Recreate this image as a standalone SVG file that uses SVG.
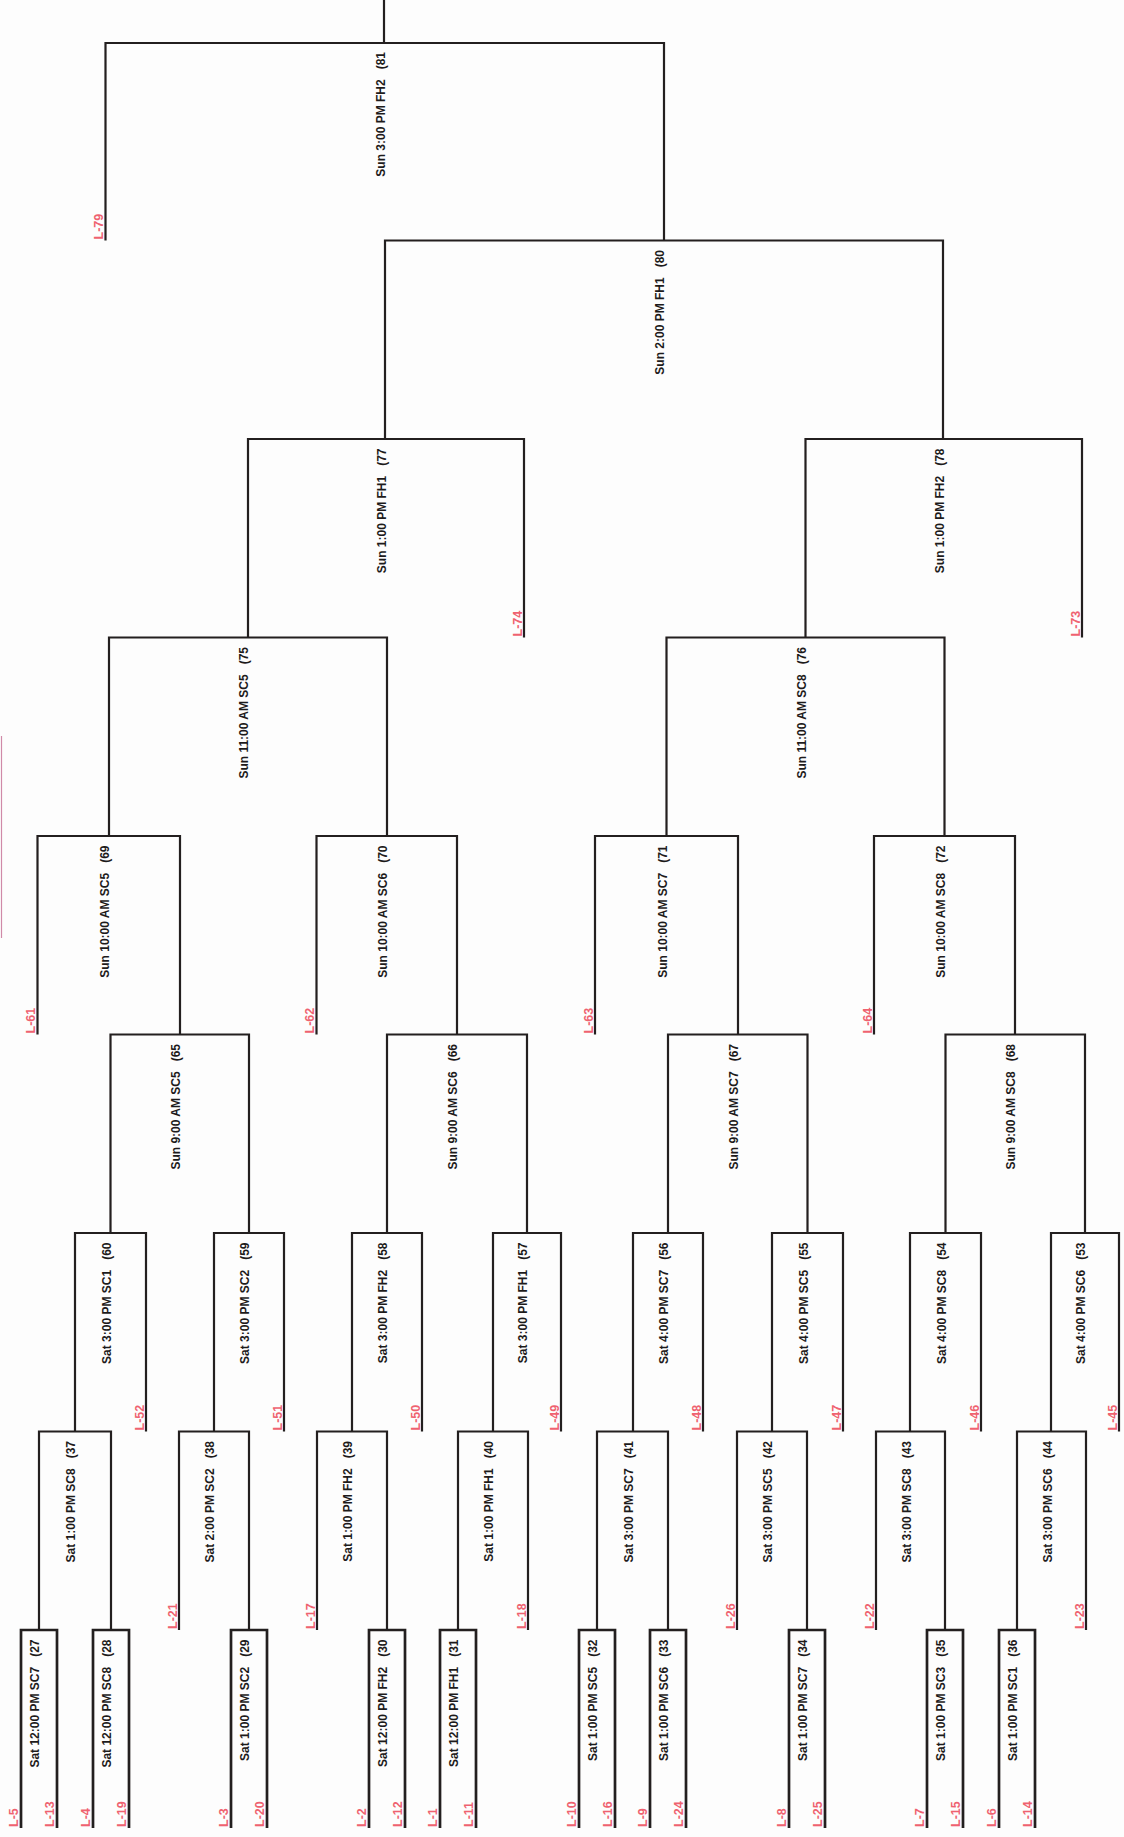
<svg xmlns="http://www.w3.org/2000/svg" width="1124" height="1837" viewBox="0 0 1124 1837" xml:space="preserve">
<style>
.c{fill:none;stroke:#231f1f;stroke-width:2.2;stroke-linejoin:miter}
.c9{stroke-width:2.7}
.m{font-family:"Liberation Sans",Arial,sans-serif;font-size:12px;font-weight:bold;fill:#1d1b1b;text-anchor:end;white-space:pre}
.l{font-family:"Liberation Sans",Arial,sans-serif;font-size:12.5px;font-weight:bold;fill:#ef6270;text-anchor:start}
</style>
<rect width="1124" height="1837" fill="#fdfdfd"/>
<line x1="1.5" y1="736" x2="1.5" y2="938" stroke="#d08aa8" stroke-width="1.2"/>
<g id="connectors">
<path class="c" d="M384,0 V43"/>
<path class="c" d="M105.5,240.5 V43 H664 V240.5"/>
<path class="c" d="M385,439 V240.5 H943 V439"/>
<path class="c" d="M248,637.5 V439 H524 V637.5"/>
<path class="c" d="M805.5,637.5 V439 H1082 V637.5"/>
<path class="c" d="M109,836 V637.5 H387 V836"/>
<path class="c" d="M666.5,836 V637.5 H944.5 V836"/>
<path class="c" d="M37.5,1034.5 V836 H180 V1034.5"/>
<path class="c" d="M316.5,1034.5 V836 H457 V1034.5"/>
<path class="c" d="M595,1034.5 V836 H738 V1034.5"/>
<path class="c" d="M874,1034.5 V836 H1015 V1034.5"/>
<path class="c" d="M110.5,1233 V1034.5 H249 V1233"/>
<path class="c" d="M387,1233 V1034.5 H527 V1233"/>
<path class="c" d="M668,1233 V1034.5 H807.5 V1233"/>
<path class="c" d="M945.5,1233 V1034.5 H1085 V1233"/>
<path class="c" d="M75,1431.5 V1233 H146 V1431.5"/>
<path class="c" d="M214,1431.5 V1233 H284 V1431.5"/>
<path class="c" d="M352,1431.5 V1233 H422 V1431.5"/>
<path class="c" d="M493,1431.5 V1233 H561 V1431.5"/>
<path class="c" d="M633,1431.5 V1233 H703 V1431.5"/>
<path class="c" d="M772,1431.5 V1233 H843 V1431.5"/>
<path class="c" d="M910,1431.5 V1233 H981 V1431.5"/>
<path class="c" d="M1051,1431.5 V1233 H1119 V1431.5"/>
<path class="c" d="M39,1630 V1431.5 H111 V1630"/>
<path class="c" d="M179,1630 V1431.5 H249 V1630"/>
<path class="c" d="M317,1630 V1431.5 H387 V1630"/>
<path class="c" d="M458,1630 V1431.5 H528 V1630"/>
<path class="c" d="M597,1630 V1431.5 H668 V1630"/>
<path class="c" d="M737,1630 V1431.5 H807 V1630"/>
<path class="c" d="M876,1630 V1431.5 H945 V1630"/>
<path class="c" d="M1017,1630 V1431.5 H1086 V1630"/>
<path class="c c9" d="M21,1828 V1630 H57 V1828"/>
<path class="c c9" d="M93,1828 V1630 H129 V1828"/>
<path class="c c9" d="M231,1828 V1630 H267 V1828"/>
<path class="c c9" d="M369,1828 V1630 H405 V1828"/>
<path class="c c9" d="M440,1828 V1630 H476 V1828"/>
<path class="c c9" d="M579,1828 V1630 H615 V1828"/>
<path class="c c9" d="M650,1828 V1630 H686 V1828"/>
<path class="c c9" d="M789,1828 V1630 H825 V1828"/>
<path class="c c9" d="M927,1828 V1630 H963 V1828"/>
<path class="c c9" d="M999,1828 V1630 H1035 V1828"/>
</g>
<g id="m81"><text class="m" x="385" y="52" transform="rotate(-90 385 52)">Sun 3:00 PM FH2 &#160;&#160;(81</text></g>
<g id="m80"><text class="m" x="664" y="250" transform="rotate(-90 664 250)">Sun 2:00 PM FH1 &#160;&#160;(80</text></g>
<g id="m77"><text class="m" x="386" y="448.5" transform="rotate(-90 386 448.5)">Sun 1:00 PM FH1 &#160;&#160;(77</text></g>
<g id="m78"><text class="m" x="943.5" y="448.5" transform="rotate(-90 943.5 448.5)">Sun 1:00 PM FH2 &#160;&#160;(78</text></g>
<g id="m75"><text class="m" x="248" y="647" transform="rotate(-90 248 647)">Sun 11:00 AM SC5 &#160;&#160;(75</text></g>
<g id="m76"><text class="m" x="805.5" y="647" transform="rotate(-90 805.5 647)">Sun 11:00 AM SC8 &#160;&#160;(76</text></g>
<g id="m69"><text class="m" x="109" y="845.5" transform="rotate(-90 109 845.5)">Sun 10:00 AM SC5 &#160;&#160;(69</text></g>
<g id="m70"><text class="m" x="387" y="845.5" transform="rotate(-90 387 845.5)">Sun 10:00 AM SC6 &#160;&#160;(70</text></g>
<g id="m71"><text class="m" x="666.5" y="845.5" transform="rotate(-90 666.5 845.5)">Sun 10:00 AM SC7 &#160;&#160;(71</text></g>
<g id="m72"><text class="m" x="944.5" y="845.5" transform="rotate(-90 944.5 845.5)">Sun 10:00 AM SC8 &#160;&#160;(72</text></g>
<g id="m65"><text class="m" x="180" y="1044" transform="rotate(-90 180 1044)">Sun 9:00 AM SC5 &#160;&#160;(65</text></g>
<g id="m66"><text class="m" x="457" y="1044" transform="rotate(-90 457 1044)">Sun 9:00 AM SC6 &#160;&#160;(66</text></g>
<g id="m67"><text class="m" x="738" y="1044" transform="rotate(-90 738 1044)">Sun 9:00 AM SC7 &#160;&#160;(67</text></g>
<g id="m68"><text class="m" x="1015" y="1044" transform="rotate(-90 1015 1044)">Sun 9:00 AM SC8 &#160;&#160;(68</text></g>
<g id="m60"><text class="m" x="110.5" y="1242.5" transform="rotate(-90 110.5 1242.5)">Sat 3:00 PM SC1 &#160;&#160;(60</text></g>
<g id="m59"><text class="m" x="249" y="1242.5" transform="rotate(-90 249 1242.5)">Sat 3:00 PM SC2 &#160;&#160;(59</text></g>
<g id="m58"><text class="m" x="387" y="1242.5" transform="rotate(-90 387 1242.5)">Sat 3:00 PM FH2 &#160;&#160;(58</text></g>
<g id="m57"><text class="m" x="527" y="1242.5" transform="rotate(-90 527 1242.5)">Sat 3:00 PM FH1 &#160;&#160;(57</text></g>
<g id="m56"><text class="m" x="668" y="1242.5" transform="rotate(-90 668 1242.5)">Sat 4:00 PM SC7 &#160;&#160;(56</text></g>
<g id="m55"><text class="m" x="807.5" y="1242.5" transform="rotate(-90 807.5 1242.5)">Sat 4:00 PM SC5 &#160;&#160;(55</text></g>
<g id="m54"><text class="m" x="945.5" y="1242.5" transform="rotate(-90 945.5 1242.5)">Sat 4:00 PM SC8 &#160;&#160;(54</text></g>
<g id="m53"><text class="m" x="1085" y="1242.5" transform="rotate(-90 1085 1242.5)">Sat 4:00 PM SC6 &#160;&#160;(53</text></g>
<g id="m37"><text class="m" x="75" y="1441" transform="rotate(-90 75 1441)">Sat 1:00 PM SC8 &#160;&#160;(37</text></g>
<g id="m38"><text class="m" x="214" y="1441" transform="rotate(-90 214 1441)">Sat 2:00 PM SC2 &#160;&#160;(38</text></g>
<g id="m39"><text class="m" x="352" y="1441" transform="rotate(-90 352 1441)">Sat 1:00 PM FH2 &#160;&#160;(39</text></g>
<g id="m40"><text class="m" x="493" y="1441" transform="rotate(-90 493 1441)">Sat 1:00 PM FH1 &#160;&#160;(40</text></g>
<g id="m41"><text class="m" x="632.5" y="1441" transform="rotate(-90 632.5 1441)">Sat 3:00 PM SC7 &#160;&#160;(41</text></g>
<g id="m42"><text class="m" x="772" y="1441" transform="rotate(-90 772 1441)">Sat 3:00 PM SC5 &#160;&#160;(42</text></g>
<g id="m43"><text class="m" x="910.5" y="1441" transform="rotate(-90 910.5 1441)">Sat 3:00 PM SC8 &#160;&#160;(43</text></g>
<g id="m44"><text class="m" x="1051.5" y="1441" transform="rotate(-90 1051.5 1441)">Sat 3:00 PM SC6 &#160;&#160;(44</text></g>
<g id="m27"><text class="m" x="39" y="1639.5" transform="rotate(-90 39 1639.5)">Sat 12:00 PM SC7 &#160;&#160;(27</text></g>
<g id="m28"><text class="m" x="111" y="1639.5" transform="rotate(-90 111 1639.5)">Sat 12:00 PM SC8 &#160;&#160;(28</text></g>
<g id="m29"><text class="m" x="249" y="1639.5" transform="rotate(-90 249 1639.5)">Sat 1:00 PM SC2 &#160;&#160;(29</text></g>
<g id="m30"><text class="m" x="387" y="1639.5" transform="rotate(-90 387 1639.5)">Sat 12:00 PM FH2 &#160;&#160;(30</text></g>
<g id="m31"><text class="m" x="458" y="1639.5" transform="rotate(-90 458 1639.5)">Sat 12:00 PM FH1 &#160;&#160;(31</text></g>
<g id="m32"><text class="m" x="597" y="1639.5" transform="rotate(-90 597 1639.5)">Sat 1:00 PM SC5 &#160;&#160;(32</text></g>
<g id="m33"><text class="m" x="668" y="1639.5" transform="rotate(-90 668 1639.5)">Sat 1:00 PM SC6 &#160;&#160;(33</text></g>
<g id="m34"><text class="m" x="807" y="1639.5" transform="rotate(-90 807 1639.5)">Sat 1:00 PM SC7 &#160;&#160;(34</text></g>
<g id="m35"><text class="m" x="945" y="1639.5" transform="rotate(-90 945 1639.5)">Sat 1:00 PM SC3 &#160;&#160;(35</text></g>
<g id="m36"><text class="m" x="1017" y="1639.5" transform="rotate(-90 1017 1639.5)">Sat 1:00 PM SC1 &#160;&#160;(36</text></g>
<g id="L79"><text class="l" x="103" y="239.5" transform="rotate(-90 103 239.5)">L-79</text></g>
<g id="L74"><text class="l" x="521.5" y="636.5" transform="rotate(-90 521.5 636.5)">L-74</text></g>
<g id="L73"><text class="l" x="1079.5" y="636.5" transform="rotate(-90 1079.5 636.5)">L-73</text></g>
<g id="L61"><text class="l" x="35" y="1033.5" transform="rotate(-90 35 1033.5)">L-61</text></g>
<g id="L62"><text class="l" x="314" y="1033.5" transform="rotate(-90 314 1033.5)">L-62</text></g>
<g id="L63"><text class="l" x="592.5" y="1033.5" transform="rotate(-90 592.5 1033.5)">L-63</text></g>
<g id="L64"><text class="l" x="871.5" y="1033.5" transform="rotate(-90 871.5 1033.5)">L-64</text></g>
<g id="L52"><text class="l" x="143.5" y="1430.5" transform="rotate(-90 143.5 1430.5)">L-52</text></g>
<g id="L51"><text class="l" x="281.5" y="1430.5" transform="rotate(-90 281.5 1430.5)">L-51</text></g>
<g id="L50"><text class="l" x="419.5" y="1430.5" transform="rotate(-90 419.5 1430.5)">L-50</text></g>
<g id="L49"><text class="l" x="558.5" y="1430.5" transform="rotate(-90 558.5 1430.5)">L-49</text></g>
<g id="L48"><text class="l" x="700.5" y="1430.5" transform="rotate(-90 700.5 1430.5)">L-48</text></g>
<g id="L47"><text class="l" x="840.5" y="1430.5" transform="rotate(-90 840.5 1430.5)">L-47</text></g>
<g id="L46"><text class="l" x="978.5" y="1430.5" transform="rotate(-90 978.5 1430.5)">L-46</text></g>
<g id="L45"><text class="l" x="1116.5" y="1430.5" transform="rotate(-90 1116.5 1430.5)">L-45</text></g>
<g id="L21"><text class="l" x="176.5" y="1629" transform="rotate(-90 176.5 1629)">L-21</text></g>
<g id="L17"><text class="l" x="314.5" y="1629" transform="rotate(-90 314.5 1629)">L-17</text></g>
<g id="L18"><text class="l" x="525.5" y="1629" transform="rotate(-90 525.5 1629)">L-18</text></g>
<g id="L26"><text class="l" x="734.5" y="1629" transform="rotate(-90 734.5 1629)">L-26</text></g>
<g id="L22"><text class="l" x="873.5" y="1629" transform="rotate(-90 873.5 1629)">L-22</text></g>
<g id="L23"><text class="l" x="1083.5" y="1629" transform="rotate(-90 1083.5 1629)">L-23</text></g>
<g id="L5"><text class="l" x="18" y="1827" transform="rotate(-90 18 1827)">L-5</text></g>
<g id="L13"><text class="l" x="54" y="1827" transform="rotate(-90 54 1827)">L-13</text></g>
<g id="L4"><text class="l" x="90" y="1827" transform="rotate(-90 90 1827)">L-4</text></g>
<g id="L19"><text class="l" x="126" y="1827" transform="rotate(-90 126 1827)">L-19</text></g>
<g id="L3"><text class="l" x="228" y="1827" transform="rotate(-90 228 1827)">L-3</text></g>
<g id="L20"><text class="l" x="264" y="1827" transform="rotate(-90 264 1827)">L-20</text></g>
<g id="L2"><text class="l" x="366" y="1827" transform="rotate(-90 366 1827)">L-2</text></g>
<g id="L12"><text class="l" x="402" y="1827" transform="rotate(-90 402 1827)">L-12</text></g>
<g id="L1"><text class="l" x="437" y="1827" transform="rotate(-90 437 1827)">L-1</text></g>
<g id="L11"><text class="l" x="473" y="1827" transform="rotate(-90 473 1827)">L-11</text></g>
<g id="L10"><text class="l" x="576" y="1827" transform="rotate(-90 576 1827)">L-10</text></g>
<g id="L16"><text class="l" x="612" y="1827" transform="rotate(-90 612 1827)">L-16</text></g>
<g id="L9"><text class="l" x="647" y="1827" transform="rotate(-90 647 1827)">L-9</text></g>
<g id="L24"><text class="l" x="683" y="1827" transform="rotate(-90 683 1827)">L-24</text></g>
<g id="L8"><text class="l" x="786" y="1827" transform="rotate(-90 786 1827)">L-8</text></g>
<g id="L25"><text class="l" x="822" y="1827" transform="rotate(-90 822 1827)">L-25</text></g>
<g id="L7"><text class="l" x="924" y="1827" transform="rotate(-90 924 1827)">L-7</text></g>
<g id="L15"><text class="l" x="960" y="1827" transform="rotate(-90 960 1827)">L-15</text></g>
<g id="L6"><text class="l" x="996" y="1827" transform="rotate(-90 996 1827)">L-6</text></g>
<g id="L14"><text class="l" x="1032" y="1827" transform="rotate(-90 1032 1827)">L-14</text></g>
</svg>
